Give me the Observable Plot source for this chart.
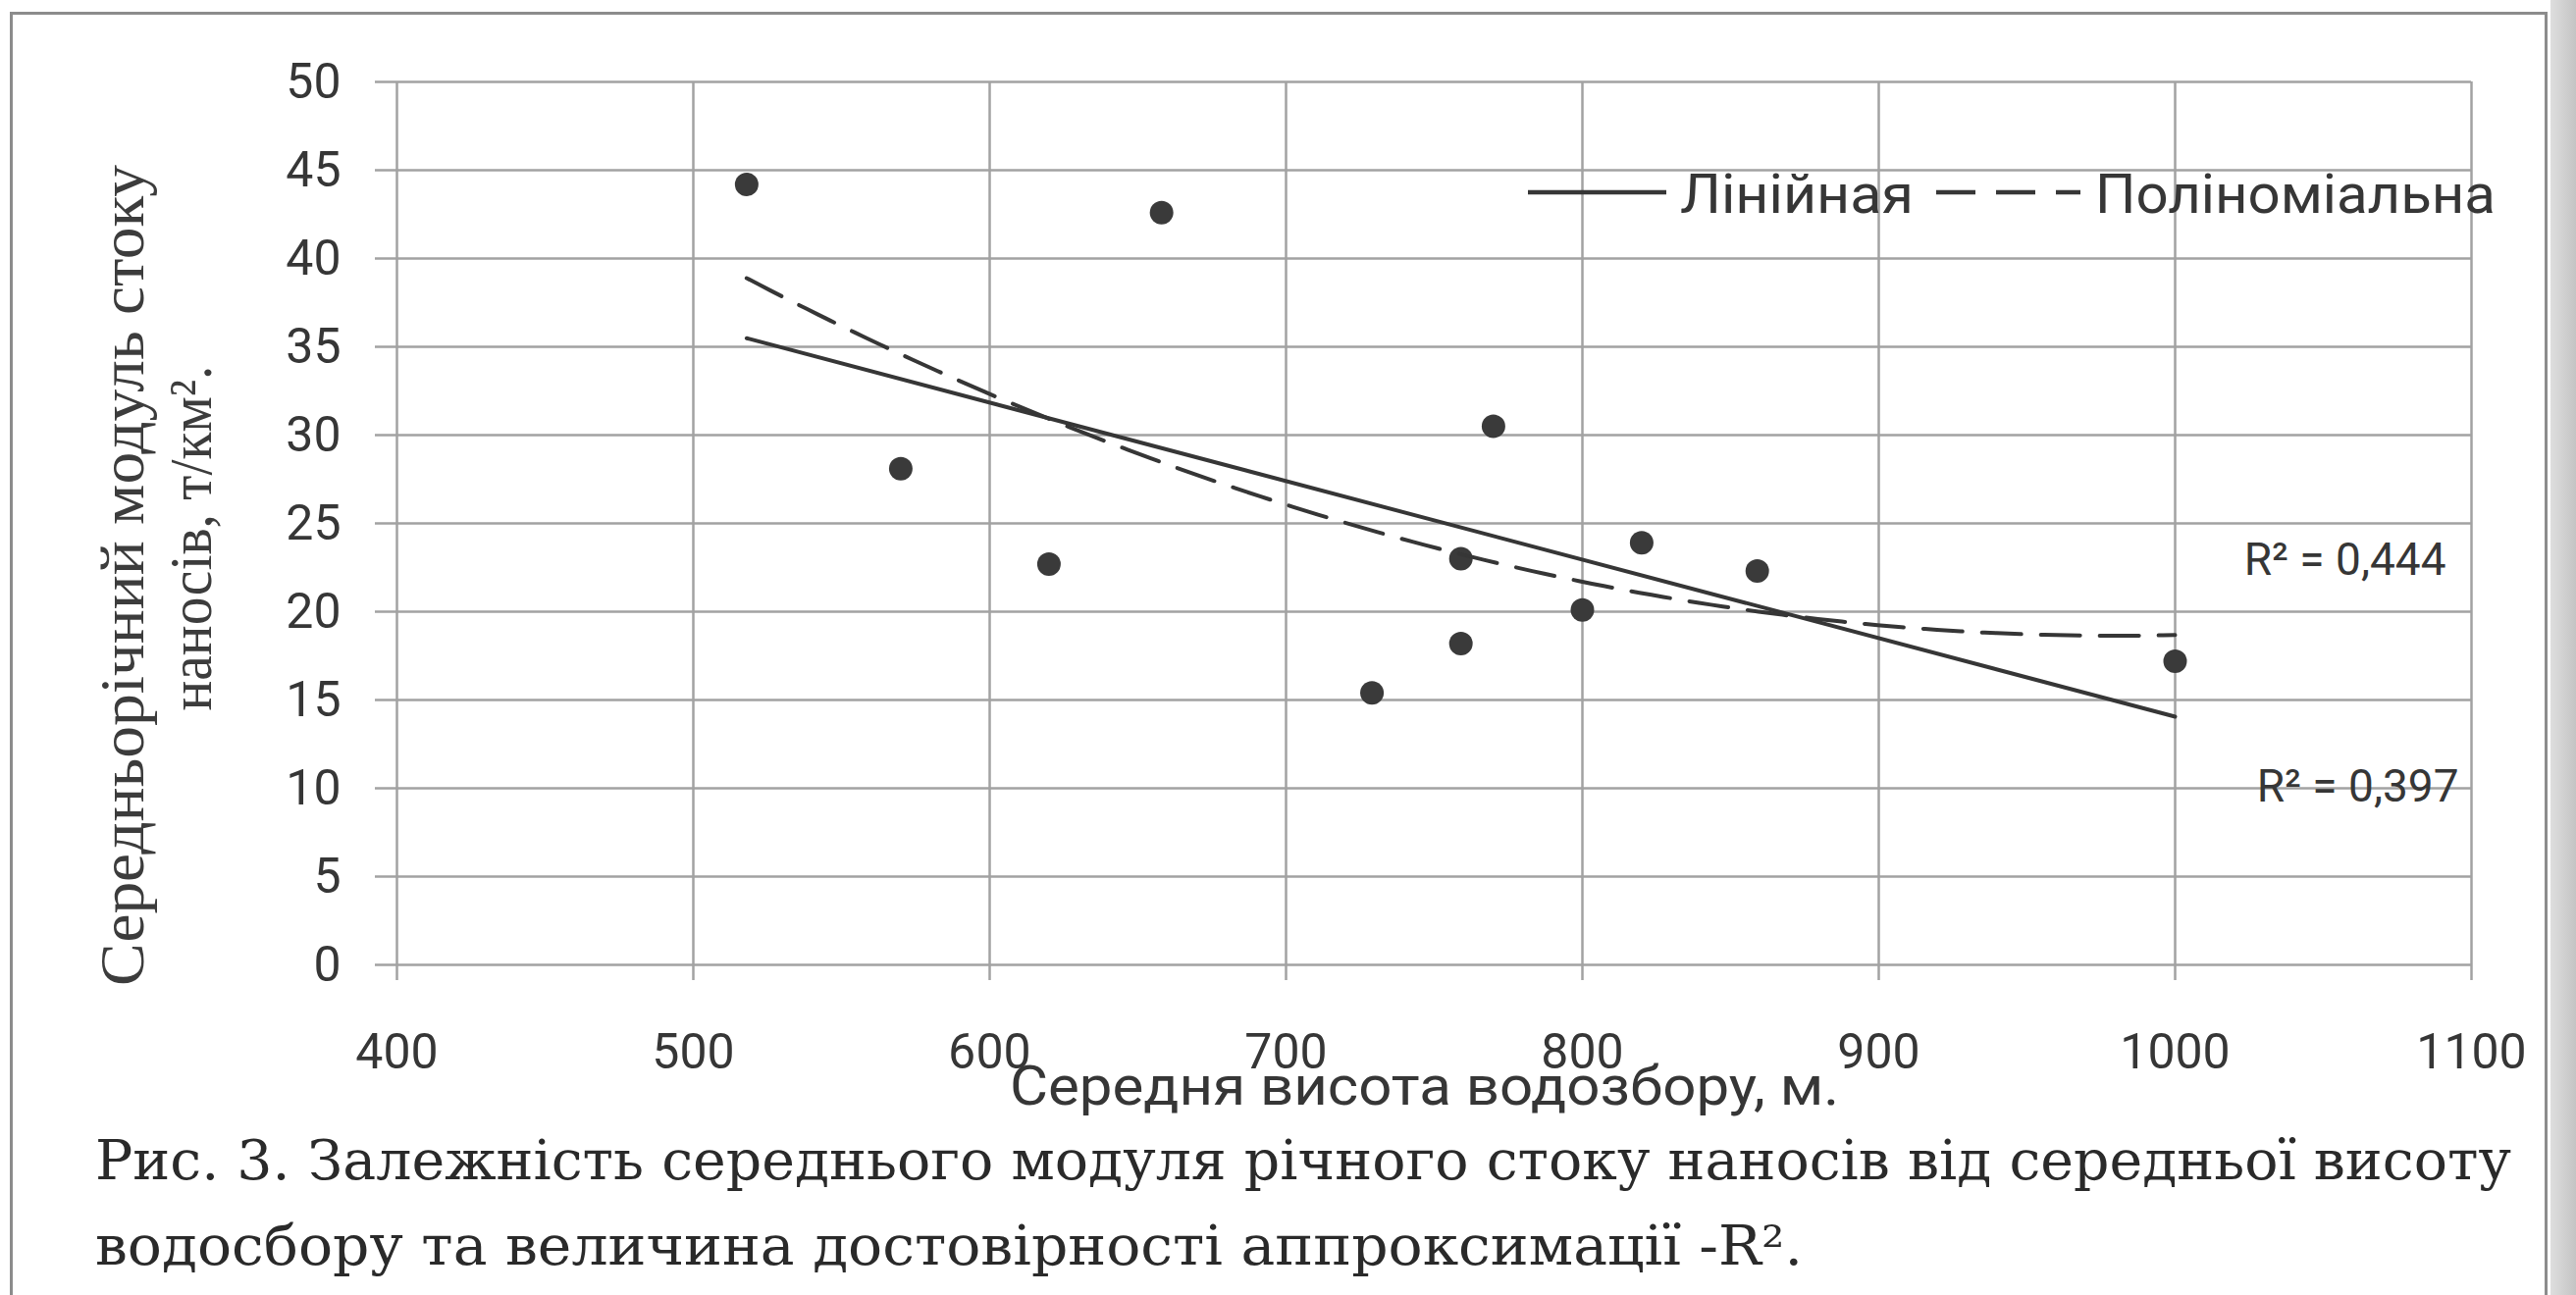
<!DOCTYPE html>
<html>
<head>
<meta charset="utf-8">
<script src="https://cdn.jsdelivr.net/npm/d3@7"></script>
<script src="https://cdn.jsdelivr.net/npm/@observablehq/plot@0.6"></script>
<style>
  html, body { margin: 0; padding: 0; background: #ffffff; }
  body { width: 2625px; height: 1320px; position: relative; overflow: hidden; }
  #frame { position: absolute; left: 10px; top: 12px; width: 2586px; height: 1400px;
           border: 3px solid #8c8c8c; border-bottom: none; box-sizing: border-box; }
  #edge { position: absolute; left: 2599px; top: 0; width: 26px; height: 1320px;
          background: linear-gradient(to right, #dedede, #c4c4c4); }
  #chart { position: absolute; left: 0; top: 0; }
  #overlay { position: absolute; left: 0; top: 0; }
</style>
</head>
<body>
<div id="frame"></div>
<div id="edge"></div>
<div id="chart"></div>
<svg id="overlay" width="2625" height="1320"></svg>
<script>
// ---------------- data ----------------
const elevation      = [518, 570, 620, 658, 729, 759, 759, 770, 800, 820, 859, 1000];   // Середня висота водозбору, м
const sedimentModule = [44.2, 28.1, 22.7, 42.6, 15.4, 23.0, 18.2, 30.5, 20.1, 23.9, 22.3, 17.2]; // т/км²
const xTicks = [400, 500, 600, 700, 800, 900, 1000, 1100];
const yTicks = [0, 5, 10, 15, 20, 25, 30, 35, 40, 45, 50];
const seriesNames = ["Лінійная", "Поліноміальна"];
const r2Labels = ["R² = 0,444", "R² = 0,397"];
const yTitle = ["Середньорічний модуль стоку", "наносів, т/км²."];
const xTitle = "Середня висота водозбору, м.";
const caption = [
  "Рис. 3. Залежність середнього модуля річного стоку наносів від середньої висоту",
  "водосбору та величина достовірності аппроксимації -R²."
];

// ---------------- derived ----------------
const points = elevation.map((x, i) => ({x, y: sedimentModule[i]}));

// 2nd-order polynomial trend (least squares, as in the spreadsheet trendline)
function quadFit(xs, ys) {
  const mx = d3.mean(xs);
  const S = [0, 0, 0, 0, 0], T = [0, 0, 0];
  xs.forEach((x, i) => {
    const u = x - mx; let p = 1;
    for (let k = 0; k < 5; k++) { S[k] += p; if (k < 3) T[k] += p * ys[i]; p *= u; }
  });
  const A = [[S[0], S[1], S[2], T[0]], [S[1], S[2], S[3], T[1]], [S[2], S[3], S[4], T[2]]];
  for (let c = 0; c < 3; c++) {
    for (let r = c + 1; r < 3; r++) {
      const f = A[r][c] / A[c][c];
      for (let k = c; k < 4; k++) A[r][k] -= f * A[c][k];
    }
  }
  const b = [0, 0, 0];
  for (let r = 2; r >= 0; r--) {
    let s = A[r][3];
    for (let k = r + 1; k < 3; k++) s -= A[r][k] * b[k];
    b[r] = s / A[r][r];
  }
  return x => b[0] + b[1] * (x - mx) + b[2] * (x - mx) * (x - mx);
}
const polyF = quadFit(elevation, sedimentModule);
const [xMin, xMax] = d3.extent(elevation);
const polyCurve = d3.range(0, 121).map(i => {
  const x = xMin + (xMax - xMin) * i / 120;
  return {x, y: polyF(x)};
});

// ---------------- chart ----------------
const gridColor = "#a2a2a2";
const ink = "#363636";
const chart = Plot.plot({
  width: 2625,
  height: 1140,
  marginLeft: 404,
  marginRight: 107,
  marginTop: 83,
  marginBottom: 157,
  style: {background: "transparent", fontFamily: "Roboto", color: ink},
  x: {domain: [400, 1100]},
  y: {domain: [0, 50]},
  marks: [
    Plot.gridX(xTicks, {stroke: gridColor, strokeOpacity: 1, strokeWidth: 2.5}),
    Plot.gridY(yTicks, {stroke: gridColor, strokeOpacity: 1, strokeWidth: 2.5}),
    Plot.axisX(xTicks, {tickSize: 16, tickPadding: 54, stroke: gridColor, strokeWidth: 2.5,
      fill: ink, fontSize: 50, fontFamily: "Roboto", label: null, tickFormat: d => String(d)}),
    Plot.axisY(yTicks, {tickSize: 22, tickPadding: 35, stroke: gridColor, strokeWidth: 2.5,
      fill: ink, fontSize: 50, fontFamily: "Roboto", label: null, tickFormat: d => String(d)}),
    Plot.dot(points, {x: "x", y: "y", r: 12, fill: "#3a3a3a", stroke: "none"}),
    Plot.linearRegressionY(points, {x: "x", y: "y", ci: 0, stroke: ink, strokeWidth: 4}),
    Plot.line(polyCurve, {x: "x", y: "y", stroke: ink, strokeWidth: 4, strokeDasharray: "40,20"}),
    Plot.text([yTitle[0]], {text: d => d, frameAnchor: "left", rotate: -90, textAnchor: "middle",
      lineAnchor: "bottom", dx: -259, dy: 53, fontFamily: "Liberation Serif", fontSize: 64, fill: "#3c3c3c"}),
    Plot.text([yTitle[1]], {text: d => d, frameAnchor: "left", rotate: -90, textAnchor: "middle",
      lineAnchor: "bottom", dx: -190, dy: 15, fontFamily: "Liberation Serif", fontSize: 62, fill: "#3c3c3c"}),
    Plot.text([xTitle], {text: d => d, frameAnchor: "bottom", lineAnchor: "bottom", dx: -10, dy: 142,
      fontFamily: "Roboto", fontSize: 56, fill: ink}),
    Plot.text([r2Labels[0]], {text: d => d, frameAnchor: "right", textAnchor: "end", lineAnchor: "middle",
      dx: -26, dy: 38, fontFamily: "Roboto", fontSize: 46, fill: ink}),
    Plot.text([r2Labels[1]], {text: d => d, frameAnchor: "right", textAnchor: "end", lineAnchor: "middle",
      dx: -13, dy: 269, fontFamily: "Roboto", fontSize: 46, fill: ink})
  ]
});
document.getElementById("chart").appendChild(chart);

// stretch a few titles to the widths they have in the reference
const fitWidth = {[yTitle[0]]: 837, [yTitle[1]]: 352, [xTitle]: 845};
d3.select(chart).selectAll("text").each(function () {
  const w = fitWidth[this.textContent];
  if (w) d3.select(this).attr("textLength", w).attr("lengthAdjust", "spacingAndGlyphs");
});

// ---------------- legend & caption (overlay) ----------------
const ov = d3.select("#overlay");
const lg = ov.append("g").attr("fill", ink).attr("font-family", "Roboto").attr("font-size", 56);
lg.append("line").attr("x1", 1557).attr("x2", 1698).attr("y1", 196).attr("y2", 196)
  .attr("stroke", ink).attr("stroke-width", 4.5);
lg.append("text").attr("x", 1712).attr("y", 217).attr("textLength", 238)
  .attr("lengthAdjust", "spacingAndGlyphs").text(seriesNames[0]);
lg.append("line").attr("x1", 1973).attr("x2", 2120).attr("y1", 196).attr("y2", 196)
  .attr("stroke", ink).attr("stroke-width", 4.5).attr("stroke-dasharray", "40,21");
lg.append("text").attr("x", 2135).attr("y", 217).attr("textLength", 408)
  .attr("lengthAdjust", "spacingAndGlyphs").text(seriesNames[1]);

const cp = ov.append("g").attr("fill", "#2a2a2a").attr("font-family", "DejaVu Serif").attr("font-size", 56);
cp.append("text").attr("x", 97).attr("y", 1202).attr("textLength", 2462)
  .attr("lengthAdjust", "spacingAndGlyphs").text(caption[0]);
cp.append("text").attr("x", 97).attr("y", 1289).attr("textLength", 1740)
  .attr("lengthAdjust", "spacingAndGlyphs").text(caption[1]);
</script>
</body>
</html>
